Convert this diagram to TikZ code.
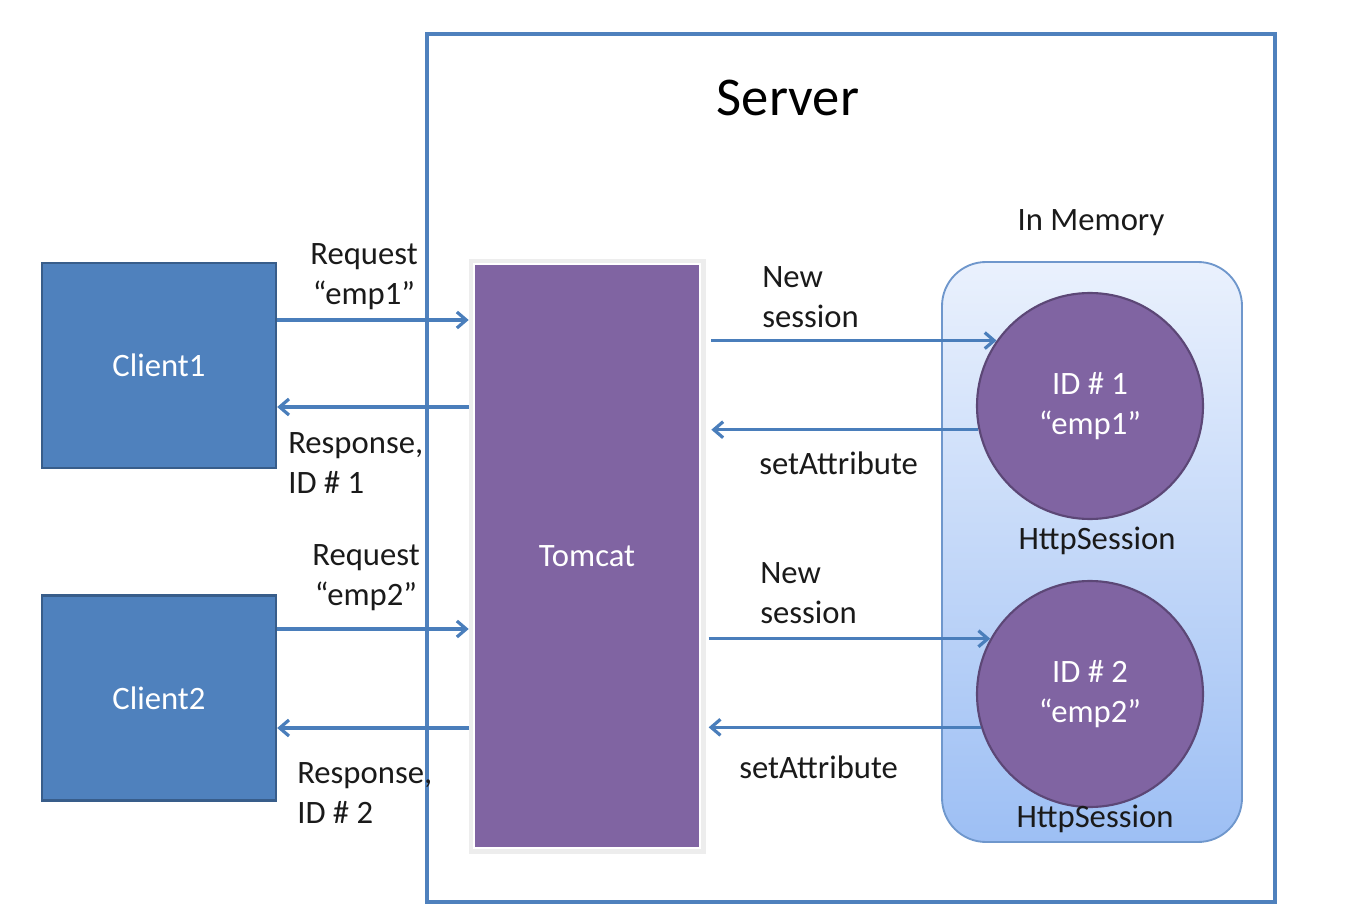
\documentclass[tikz,border=0pt]{standalone}
\usepackage{fontspec}
\setmainfont{Carlito}
\usetikzlibrary{arrows.meta,calc}
\definecolor{cblue}{HTML}{4F81BD}
\definecolor{cblueb}{HTML}{385D8A}
\definecolor{cpurp}{HTML}{8064A2}
\definecolor{cpurpb}{HTML}{5C4776}
\definecolor{carrow}{HTML}{4A7EBB}
\definecolor{memtop}{HTML}{EAF1FD}
\definecolor{membot}{HTML}{9DBFF4}
\definecolor{memb}{HTML}{6F97CC}
\definecolor{txt}{HTML}{1A1A1A}
\tikzset{
  x=0.75pt, y=-0.75pt,
  lbl/.style={inner sep=0pt, text=txt, font=\fontsize{24.5}{30}\selectfont},
  clientbox/.style={rectangle, fill=cblue, draw=cblueb, line width=1.8pt, minimum width=175.5pt, minimum height=153.5pt, text=white, font=\fontsize{24.5}{30}\selectfont},
  sess/.style={circle, fill=cpurp, draw=cpurpb, line width=1.6pt, minimum size=169.5pt, inner sep=0pt, text=white, align=center, font=\fontsize{24.5}{30}\selectfont},
  arr/.style={draw=carrow, line width=2.6pt, -{Straight Barb[length=7pt,width=12pt,line width=2.4pt]}},
}
\begin{document}
\begin{tikzpicture}
\useasboundingbox (0,0) rectangle (1354,920);
% server
\node[rectangle, draw=cblue, line width=2.6pt, minimum width=636pt, minimum height=651pt] (server) at (851,468) {};
\node[lbl, font=\fontsize{41}{48}\selectfont, text=black] (servertxt) at (788,98) {Server};
% clients
\node[clientbox] (client1) at (159,365.5) {Client1};
\node[clientbox] (client2) at (159,698) {Client2};
% tomcat
\fill[black!7] (469,259) rectangle (706,854);
\node[rectangle, fill=cpurp, draw=white, line width=2pt, minimum width=169.5pt, minimum height=438pt, text=white, font=\fontsize{24.5}{30}\selectfont] (tomcat) at (587,556) {Tomcat};
% memory
\node[rectangle, rounded corners=33pt, top color=memtop, bottom color=membot, draw=memb, line width=1.4pt, minimum width=225pt, minimum height=435pt] (mem) at (1092,552) {};
\node[lbl] (inmem) at (1091,223) {In Memory};
\node[sess] (s1) at (1090,406) {ID \# 1\\“emp1”};
\node[sess] (s2) at (1090,694) {ID \# 2\\“emp2”};
\node[lbl] (hs1) at (1097,541) {HttpSession};
\node[lbl] (hs2) at (1095,819) {HttpSession};
% client arrows
\draw[arr, shorten >=3pt] (client1.east |- 0,320) -- (tomcat.west |- 0,320);
\draw[arr, shorten <=3pt] (tomcat.west |- 0,407) -- (client1.east |- 0,407);
\draw[arr, shorten >=3pt] (client2.east |- 0,629) -- (tomcat.west |- 0,629);
\draw[arr, shorten <=3pt] (tomcat.west |- 0,728) -- (client2.east |- 0,728);
% session arrows
\draw[arr, shorten <=7.5pt] (tomcat.east |- s1.145.5) -- (s1.145.5);
\draw[arr, shorten >=7.5pt] (s1.192.3) -- (tomcat.east |- s1.192.3);
\draw[arr, shorten <=5.5pt] (tomcat.east |- s2.151.5) -- (s2.151.5);
\draw[arr, shorten >=5.5pt] (s2.197.5) -- (tomcat.east |- s2.197.5);
% labels
\node[lbl, align=center] (req1) at (364,277) {Request\\“emp1”};
\node[lbl, align=left, anchor=west] (resp1) at (288,463) {Response,\\ID \# 1};
\node[lbl, align=center] (req2) at (366,578) {Request\\“emp2”};
\node[lbl, align=left, anchor=west] (resp2) at (297,793) {Response,\\ID \# 2};
\node[lbl, align=left, anchor=west] (ns1) at (762,297) {New\\session};
\node[lbl, anchor=west] (sa1) at (759,463) {setAttribute};
\node[lbl, align=left, anchor=west] (ns2) at (760,593) {New\\session};
\node[lbl, anchor=west] (sa2) at (739,767) {setAttribute};
\end{tikzpicture}
\end{document}
